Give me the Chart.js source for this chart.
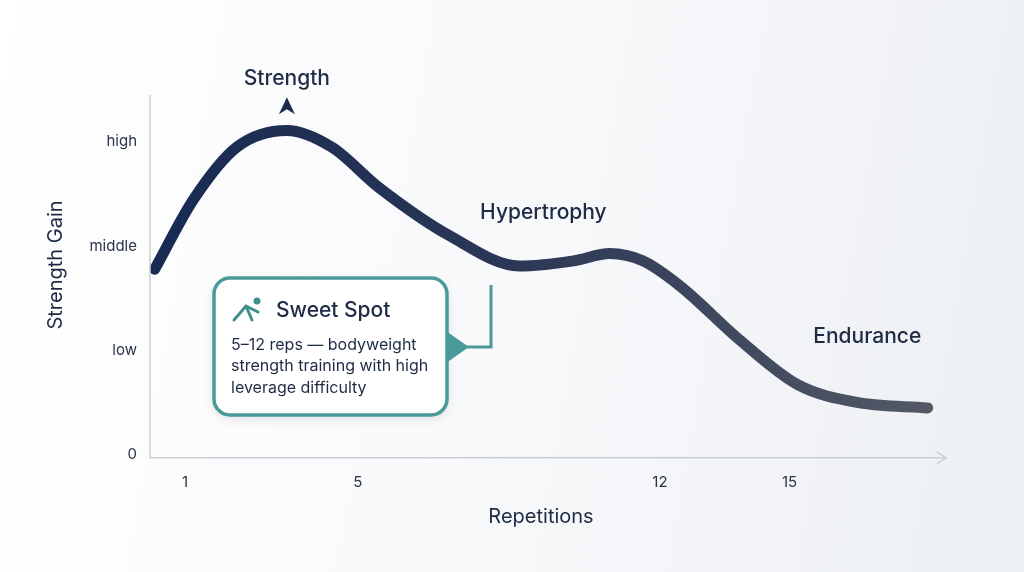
<!DOCTYPE html>
<html><head><meta charset="utf-8">
<script src="https://cdn.jsdelivr.net/npm/chart.js@4"></script>
<style>
html,body{margin:0;padding:0;width:1024px;height:572px;overflow:hidden;background:linear-gradient(100deg,#ffffff 0%,#f7f8fa 55%,#eceff3 100%);font-family:Inter,"Noto Sans",sans-serif;}
#wrap{position:absolute;left:0;top:0;width:1024px;height:572px;}
</style></head><body>
<div id="wrap"><canvas id="c" width="1024" height="572"></canvas></div>
<script>
const repsX = [0.3, 1.2, 2.2, 3.36, 4.4, 5.47, 7.13, 8.75, 10.0, 10.84, 11.6, 12.46, 13.85, 15.2, 16.6, 18.2];
const gainY = [1.78, 2.45, 2.95, 3.11, 2.95, 2.57, 2.1, 1.81, 1.86, 1.93, 1.86, 1.62, 1.1, 0.67, 0.5, 0.45];
const xTicks = [1, 5, 12, 15];
const yTicks = [0, 1, 2, 3];
const yTickLabels = ['0', 'low', 'middle', 'high'];
const phaseLabels = [
  {text:'Strength', x:3.36, y:3.61},
  {text:'Hypertrophy', x:9.3, y:2.32},
  {text:'Endurance', x:16.8, y:1.13}
];
const calloutTitle = 'Sweet Spot';
const calloutLines = ['5–12 reps — bodyweight','strength training with high','leverage difficulty'];
const xTitle = 'Repetitions', yTitle = 'Strength Gain';

const deco = {
  id:'deco',
  afterDraw(ch){
    const c=ch.ctx, xs=ch.scales.x, ys=ch.scales.y;
    c.save();
    c.strokeStyle='#c9ced6'; c.lineWidth=1.5;
    const x0=150, y0=ys.getPixelForValue(0)+3;
    c.beginPath(); c.moveTo(x0,95); c.lineTo(x0,y0); c.lineTo(945,y0); c.stroke();
    c.beginPath(); c.moveTo(937,y0-6); c.lineTo(946,y0); c.lineTo(937,y0+6); c.stroke();
    // tick labels
    c.fillStyle='#2a3448'; c.font='15px Inter, "Noto Sans", sans-serif'; c.textBaseline='middle';
    c.textAlign='right'; yTicks.forEach((v,i)=>c.fillText(yTickLabels[i],137,ys.getPixelForValue(v)));
    c.textAlign='center'; xTicks.forEach(v=>c.fillText(String(v),xs.getPixelForValue(v),482));
    c.fillStyle='#1e2b45'; c.font='20px Inter, "Noto Sans", sans-serif';
    c.fillText(xTitle,541,517);
    c.save(); c.translate(56,265); c.rotate(-Math.PI/2); c.fillText(yTitle,0,0); c.restore();
    // phase labels
    c.font='500 21px Inter, "Noto Sans", sans-serif';
    phaseLabels.forEach(p=>c.fillText(p.text, xs.getPixelForValue(p.x), ys.getPixelForValue(p.y)));
    const ax=xs.getPixelForValue(3.36), ay=ys.getPixelForValue(3.61)+28;
    c.fillStyle='#1c2c4f'; c.beginPath(); c.moveTo(ax,ay-9); c.lineTo(ax+8,ay+8); c.lineTo(ax,ay+3); c.lineTo(ax-8,ay+8); c.closePath(); c.fill();
    // callout
    const bx=214,by=278,bw=233,bh=137;
    c.fillStyle='#ffffff'; c.strokeStyle='#4a9a9a'; c.lineWidth=3.5;
    c.shadowColor='rgba(0,0,0,0.12)'; c.shadowBlur=12; c.shadowOffsetY=3;
    c.beginPath(); c.roundRect(bx,by,bw,bh,16); c.fill(); c.shadowColor='transparent'; c.stroke();
    c.fillStyle='#4a9a9a'; c.beginPath(); c.moveTo(bx+bw-1,by+53); c.lineTo(bx+bw+22,by+69); c.lineTo(bx+bw-1,by+85); c.closePath(); c.fill();
    c.strokeStyle='#4a9a9a'; c.lineWidth=3; c.beginPath(); c.moveTo(bx+bw+20,by+69); c.lineTo(491,by+69); c.lineTo(491,285); c.stroke();
    c.strokeStyle='#3f8f8f'; c.lineWidth=3; c.lineCap='round';
    c.beginPath(); c.moveTo(234,320); c.lineTo(246,306); c.lineTo(258,312); c.moveTo(246,306); c.lineTo(252,320); c.stroke();
    c.fillStyle='#3f8f8f'; c.beginPath(); c.arc(257,301,3.5,0,7); c.fill();
    c.fillStyle='#1e2b45'; c.textAlign='left';
    c.font='500 21px Inter, "Noto Sans", sans-serif'; c.fillText(calloutTitle,276,311);
    c.font='16px Inter, "Noto Sans", sans-serif';
    calloutLines.forEach((l,i)=>c.fillText(l,231,345+i*21.5));
    c.restore();
  }
};

new Chart(document.getElementById('c'),{
  type:'line',
  data:{datasets:[{
    data:repsX.map((x,i)=>({x,y:gainY[i]})),
    borderWidth:11, cubicInterpolationMode:'monotone', pointRadius:0, borderCapStyle:'round',
    borderColor:(ctx)=>{const a=ctx.chart.chartArea; if(!a) return '#1c2c4f';
      const g=ctx.chart.ctx.createLinearGradient(a.left,0,a.right,0); g.addColorStop(0,'#172a52'); g.addColorStop(0.45,'#2b3756'); g.addColorStop(1,'#545a66'); return g;}
  }]},
  options:{
    responsive:false, animation:false,
    layout:{padding:{left:150,right:79,top:95,bottom:113}},
    plugins:{legend:{display:false},tooltip:{enabled:false}},
    scales:{
      x:{type:'linear',min:0.19,max:18.6,display:false},
      y:{type:'linear',min:-0.04,max:3.45,display:false}
    }
  },
  plugins:[deco]
});
</script></body></html>
